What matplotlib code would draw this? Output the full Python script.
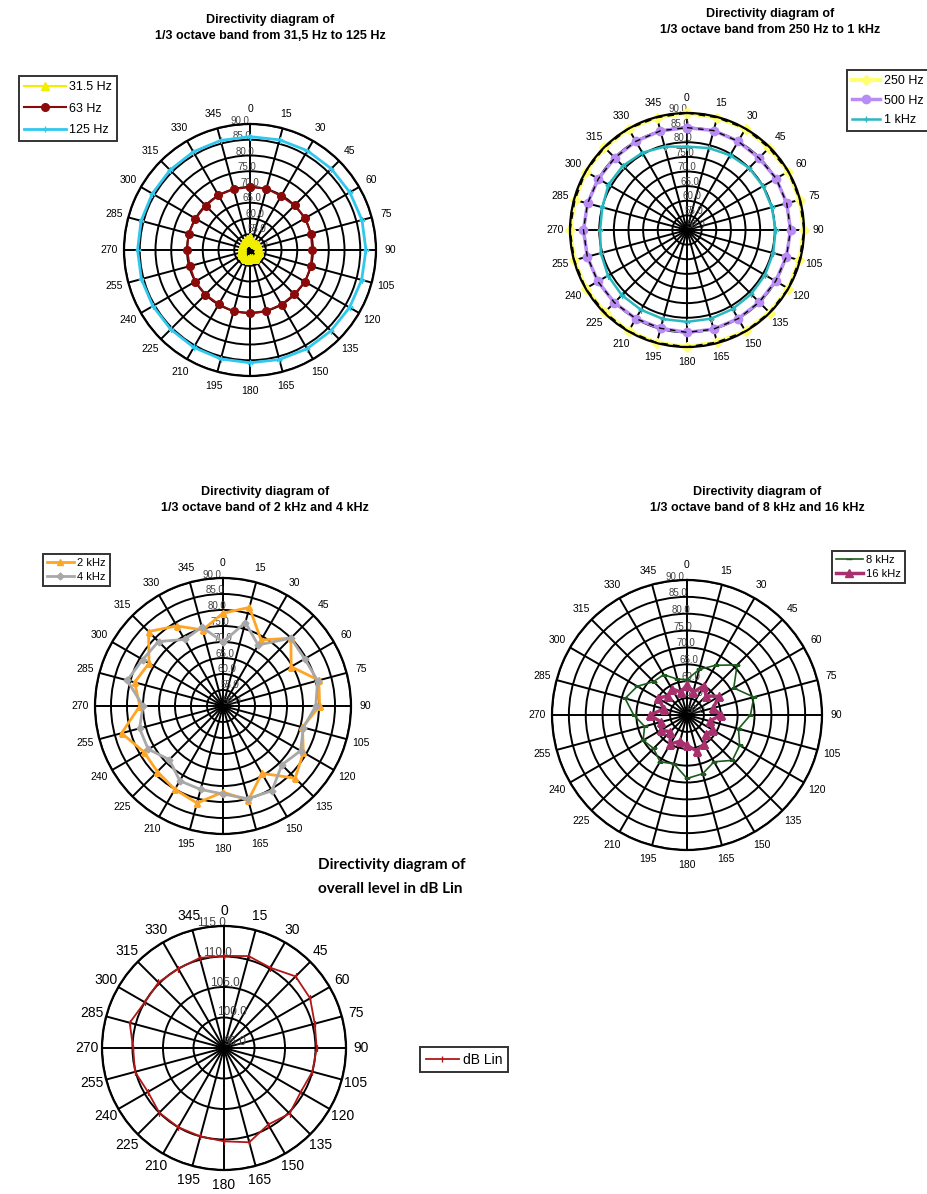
import matplotlib
matplotlib.use("Agg")
import matplotlib.pyplot as plt
import numpy as np

plt.rcParams['font.family'] = ['Liberation Sans', 'DejaVu Sans']

W, H = 927, 1194

angles = list(range(0, 360, 15))

# chart 1 : 31,5 Hz - 125 Hz
hz31 = [54, 53, 52.5, 52.8, 53, 52.5, 52.8, 53, 52.5, 52.8, 53, 52.6,
        52.5, 52.8, 53, 52.5, 52.8, 53, 52.6, 52.5, 52.8, 53, 53.2, 53.5]
hz63 = [70, 70.2, 69.8, 70, 70.3, 70, 69.8, 70, 70.2, 69.9, 70, 70.1,
        70, 70.2, 69.9, 70, 70.1, 69.8, 70, 70.2, 70, 69.9, 70.1, 70]
hz125 = [86, 86.2, 86.4, 86.5, 86.6, 86.8, 86.8, 86.7, 86.5, 86.3, 86.2, 86,
         85.8, 85.8, 85.7, 85.6, 85.6, 85.7, 85.7, 85.8, 85.8, 85.9, 86, 86]

# chart 2 : 250 Hz - 1 kHz
hz250 = [90, 89.8, 90, 89.7, 90, 89.9, 90, 89.8, 90, 89.9, 90, 89.7,
         90, 89.9, 90, 89.8, 90, 89.9, 90, 89.7, 90, 89.9, 90, 89.8]
hz500 = [85, 85.2, 85, 84.8, 85.2, 85.3, 85.4, 85.2, 85, 84.9, 85, 85.1,
         85, 84.8, 85, 85.1, 85.2, 85.3, 85.4, 85.2, 85, 84.9, 85, 85.1]
khz1 = [78.5, 79, 79.5, 80, 80, 80, 80.3, 80.5, 80.8, 81, 81.2, 81.4,
        81.4, 81.5, 81.5, 81.5, 81.2, 80.5, 79.7, 80, 81, 81, 80.5, 79.5]

# chart 3 : 2 kHz and 4 kHz
khz2 = [79, 81.9, 73.8, 80, 74.6, 81, 80.2, 75.7, 79, 81.9, 74.3, 80.5,
        76.9, 81.4, 80.1, 79, 78.6, 82.8, 76, 78.6, 76.7, 82.9, 78.9, 74.6]
khz4 = [70, 77, 72, 80, 79.5, 80.6, 79, 76, 78, 76, 80.6, 80,
        77.5, 77, 77, 73.7, 77, 77, 75, 81, 79, 78.5, 74, 75.5]

# chart 4 : 8 kHz and 16 kHz
khz8 = [60.5, 64, 67, 71, 66, 70.5, 68.8, 65.8, 68, 69, 66, 68,
        68.8, 65, 66, 64, 65, 63, 65.8, 69, 67, 64, 63.8, 61]
khz16 = [59, 57, 60, 58, 61, 58, 60, 57, 59, 58, 60, 61,
         59, 58, 60, 57, 59, 58, 61, 57, 60, 58, 59, 57]

# chart 5 : overall level
dblin = [110.1, 110.6, 110.2, 111.6, 111.3, 110.4, 110.2, 110, 109.5, 110.2, 109.5, 111,
         110.3, 110, 110, 110, 109.4, 110.1, 109.9, 111, 110, 110.2, 110, 110.3]


def closed(v):
    return list(v) + [v[0]]


th = np.deg2rad(closed(angles))

fig = plt.figure(figsize=(W / 100, H / 100), dpi=100)


def polar_at(cx, cy, r, rmin, rmax, step, fs=7.5, rfs=7, rpos=351):
    ax = fig.add_axes([(cx - r) / W, 1 - (cy + r) / H, 2 * r / W, 2 * r / H], projection='polar')
    ax.set_theta_zero_location('N')
    ax.set_theta_direction(-1)
    ax.set_xticks(np.deg2rad(angles))
    ax.set_xticklabels([str(a) for a in angles], fontsize=fs)
    ax.set_ylim(rmin, rmax)
    ticks = np.arange(rmin, rmax + 0.01, step)
    ax.set_yticks(ticks)
    ax.set_yticklabels(['%.1f' % t for t in ticks], fontsize=rfs, color='#444444')
    ax.set_rlabel_position(rpos)
    ax.grid(True, color='black', linewidth=1.4)
    ax.spines['polar'].set_linewidth(1.6)
    ax.tick_params(axis='x', pad=0)
    return ax


def legend_at(handles, x, y, fs=8, hl=2.4, ls=0.35):
    lg = fig.legend(handles=handles, loc='upper left', bbox_to_anchor=(x / W, 1 - y / H),
                    fontsize=fs, frameon=True, fancybox=False, edgecolor='black',
                    handlelength=hl, handletextpad=0.3, borderpad=0.4, labelspacing=ls)
    lg.get_frame().set_linewidth(1.4)
    return lg


# chart 1
ax1 = polar_at(250, 250, 126, 50, 90, 5)
l1, = ax1.plot(th, closed(hz31), color='#F2EE00', marker='^', markersize=6, lw=1.5, label='31.5 Hz')
l2, = ax1.plot(th, closed(hz63), color='#8B0A0A', marker='o', markersize=5.5, lw=1.5, label='63 Hz')
l3, = ax1.plot(th, closed(hz125), color='#30C8EE', marker='+', markersize=4, lw=2, label='125 Hz')
legend_at([l1, l2, l3], 13, 70, fs=9, hl=3.3, ls=0.75)
fig.text(270 / W, 1 - 28 / H, 'Directivity diagram of\n1/3 octave band from 31,5 Hz to 125 Hz',
         ha='center', va='center', fontsize=9, fontweight='bold', linespacing=1.45)

# chart 2
ax2 = polar_at(687, 230, 117, 50, 90, 5)
l4, = ax2.plot(th, closed(hz250), color='#FFFF70', marker='D', markersize=5, lw=3, label='250 Hz', clip_on=False)
ax2.plot(th, closed(hz250), color='black', lw=1.2, ls=(0, (4, 3)), clip_on=False)
l5, = ax2.plot(th, closed(hz500), color='#B98CF5', marker='o', markersize=6, lw=2.5, label='500 Hz')
ax2.plot(th, closed(hz500), color='black', lw=1.0, ls=(0, (4, 4)))
l6, = ax2.plot(th, closed(khz1), color='#2AB8C0', marker='+', markersize=4, lw=1.8, label='1 kHz')
legend_at([l4, l5, l6], 841, 64, fs=9, hl=2.2, ls=0.6)
fig.text(770 / W, 1 - 22 / H, 'Directivity diagram of\n1/3 octave band from 250 Hz to 1 kHz',
         ha='center', va='center', fontsize=9, fontweight='bold', linespacing=1.45)

# chart 3
ax3 = polar_at(223, 706, 128, 50, 90, 5)
l7, = ax3.plot(th, closed(khz2), color='#FFA526', marker='^', markersize=5, lw=2, label='2 kHz')
l8, = ax3.plot(th, closed(khz4), color='#A8A8A8', marker='D', markersize=3.5, lw=2, label='4 kHz')
legend_at([l7, l8], 37, 548)
fig.text(265 / W, 1 - 500 / H, 'Directivity diagram of\n1/3 octave band of 2 kHz and 4 kHz',
         ha='center', va='center', fontsize=9, fontweight='bold', linespacing=1.45)

# chart 4
ax4 = polar_at(687, 715, 135, 50, 90, 5)
l9, = ax4.plot(th, closed(khz8), color='#1E5A1E', marker='_', markersize=4, lw=1.2, label='8 kHz')
l10, = ax4.plot(th, closed(khz16), color='#A8306E', marker='^', markersize=5.5, lw=2.5, label='16 kHz')
legend_at([l9, l10], 826, 545)
fig.text(757 / W, 1 - 500 / H, 'Directivity diagram of\n1/3 octave band of 8 kHz and 16 kHz',
         ha='center', va='center', fontsize=9, fontweight='bold', linespacing=1.45)

# chart 5
ax5 = polar_at(224, 1048, 122, 95, 115, 5, fs=10, rfs=8.5, rpos=347)
l11, = ax5.plot(th, closed(dblin), color='#B01818', marker='|', markersize=4, lw=1.3, label='dB Lin')
legend_at([l11], 413, 1040, fs=10)
fig.text(318 / W, 1 - 877 / H, 'Directivity diagram of\noverall level in dB Lin',
         ha='left', va='center', fontsize=11, fontweight='bold', linespacing=1.9,
         family=['Lato', 'DejaVu Sans'])

fig.savefig('out.png', dpi=100)
